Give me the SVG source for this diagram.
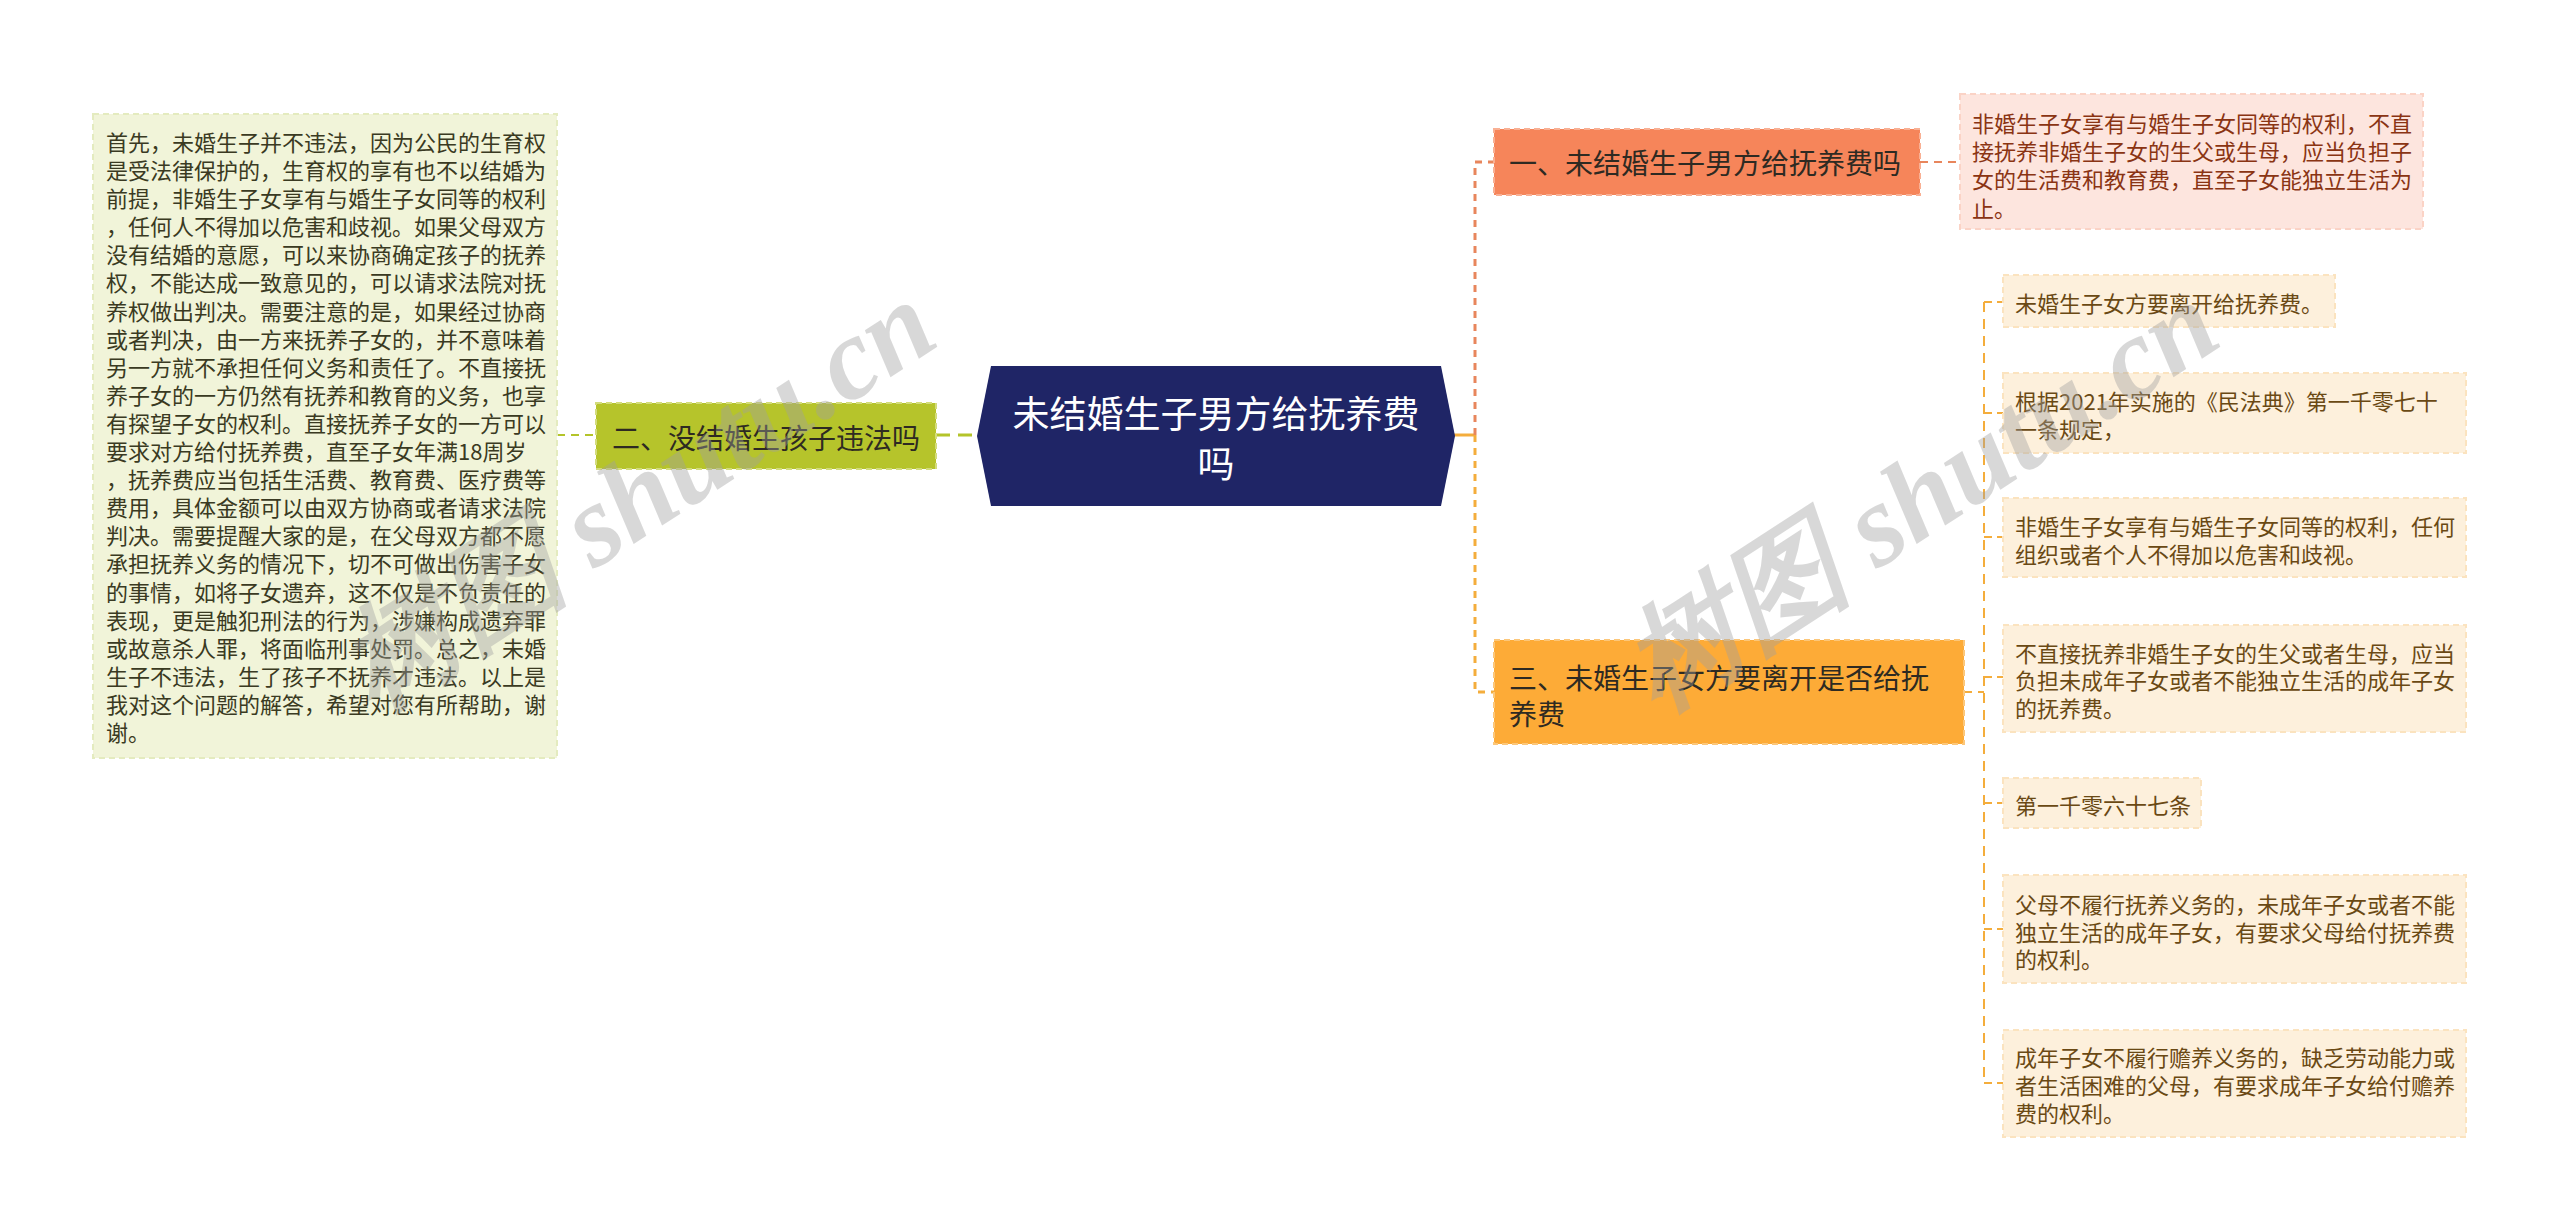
<svg xmlns="http://www.w3.org/2000/svg" width="2560" height="1231" viewBox="0 0 2560 1231">
<style>
text{font-family:"Noto Sans CJK SC","Noto Sans",sans-serif;dominant-baseline:central}
.t22{font-size:22px}
.lt{fill:#3a3a22}
.d1{fill:#8a3413}
.d3{fill:#6a4914}
.nt{font-size:28px;fill:#2e2a22}
.cbox{fill:#fdf0dc;stroke:#fbe3bf;stroke-width:2;stroke-dasharray:6 4}
.c-or{stroke:#f4ad3c;fill:none}
.c-co{stroke:#e8865c;fill:none}
.c-gr{stroke:#b4c42a;fill:none}
.wm{font-family:"Liberation Serif",serif;font-style:italic;font-weight:bold;fill:#a0a0a0;opacity:0.4;dominant-baseline:auto}
</style>
<rect width="2560" height="1231" fill="#ffffff"/>
<g id="connectors">
<path class="c-gr" stroke-width="2" stroke-dasharray="8 6" d="M557 435H596"/>
<path class="c-gr" stroke-width="3" stroke-dasharray="14 8" d="M936 435H977"/>
<path class="c-or" stroke-width="3" d="M1454 435H1475"/>
<path class="c-co" stroke-width="3" stroke-dasharray="7 6" d="M1475 435V162H1494"/>
<path class="c-or" stroke-width="3" stroke-dasharray="7 6" d="M1475 435V692H1494"/>
<path class="c-co" stroke-width="2" stroke-dasharray="8 6" d="M1920 162H1960"/>
<path class="c-or" stroke-width="2" stroke-dasharray="8 6" d="M1964 692H1984"/>
<path class="c-or" stroke-width="2" stroke-dasharray="10 7" d="M1984 302V1083"/>
<path class="c-or" stroke-width="2" stroke-dasharray="8 5" d="M1984 302H2003M1984 413H2003M1984 537H2003M1984 677H2003M1984 803H2003M1984 929H2003M1984 1083H2003"/>
</g>
<g id="left-detail">
<rect x="93" y="114" width="464" height="644" fill="#f1f4d9" stroke="#e4ebbf" stroke-width="2" stroke-dasharray="6 4"/>
<g class="t22 lt">
<text x="106" y="141">首先，未婚生子并不违法，因为公民的生育权</text>
<text x="106" y="169">是受法律保护的，生育权的享有也不以结婚为</text>
<text x="106" y="197">前提，非婚生子女享有与婚生子女同等的权利</text>
<text x="106" y="225">，任何人不得加以危害和歧视。如果父母双方</text>
<text x="106" y="253">没有结婚的意愿，可以来协商确定孩子的抚养</text>
<text x="106" y="281">权，不能达成一致意见的，可以请求法院对抚</text>
<text x="106" y="310">养权做出判决。需要注意的是，如果经过协商</text>
<text x="106" y="338">或者判决，由一方来抚养子女的，并不意味着</text>
<text x="106" y="366">另一方就不承担任何义务和责任了。不直接抚</text>
<text x="106" y="394">养子女的一方仍然有抚养和教育的义务，也享</text>
<text x="106" y="422">有探望子女的权利。直接抚养子女的一方可以</text>
<text x="106" y="450">要求对方给付抚养费，直至子女年满18周岁</text>
<text x="106" y="478">，抚养费应当包括生活费、教育费、医疗费等</text>
<text x="106" y="506">费用，具体金额可以由双方协商或者请求法院</text>
<text x="106" y="534">判决。需要提醒大家的是，在父母双方都不愿</text>
<text x="106" y="562">承担抚养义务的情况下，切不可做出伤害子女</text>
<text x="106" y="591">的事情，如将子女遗弃，这不仅是不负责任的</text>
<text x="106" y="619">表现，更是触犯刑法的行为，涉嫌构成遗弃罪</text>
<text x="106" y="647">或故意杀人罪，将面临刑事处罚。总之，未婚</text>
<text x="106" y="675">生子不违法，生了孩子不抚养才违法。以上是</text>
<text x="106" y="703">我对这个问题的解答，希望对您有所帮助，谢</text>
<text x="106" y="731">谢。</text>
</g>
</g>
<g id="node-2">
<rect x="596" y="403" width="340" height="66" fill="#b6c42b" stroke="#d3dc7c" stroke-width="2" stroke-dasharray="6 4"/>
<text class="nt" x="612" y="437">二、没结婚生孩子违法吗</text>
</g>
<g id="center">
<polygon points="977,436 991,366 1441,366 1455,436 1441,506 991,506" fill="#1f2566"/>
<text x="1216" y="412" font-size="37" fill="#ffffff" text-anchor="middle">未结婚生子男方给抚养费</text>
<text x="1216" y="462" font-size="37" fill="#ffffff" text-anchor="middle">吗</text>
</g>
<g id="node-1">
<rect x="1494" y="129" width="426" height="66" fill="#f6855a" stroke="#f9b094" stroke-width="2" stroke-dasharray="6 4"/>
<text class="nt" x="1509" y="162">一、未结婚生子男方给抚养费吗</text>
</g>
<g id="node-1-detail">
<rect x="1960" y="94" width="463" height="135" fill="#fde5de" stroke="#fbd3c6" stroke-width="2" stroke-dasharray="6 4"/>
<g class="t22 d1">
<text x="1972" y="122">非婚生子女享有与婚生子女同等的权利，不直</text>
<text x="1972" y="150">接抚养非婚生子女的生父或生母，应当负担子</text>
<text x="1972" y="178">女的生活费和教育费，直至子女能独立生活为</text>
<text x="1972" y="207">止。</text>
</g>
</g>
<g id="node-3">
<rect x="1494" y="640" width="470" height="104" fill="#fdab37" stroke="#fcc77a" stroke-width="2" stroke-dasharray="6 4"/>
<text class="nt" x="1509" y="677">三、未婚生子女方要离开是否给抚</text>
<text class="nt" x="1509" y="713">养费</text>
</g>
<g id="node-3-a">
<rect class="cbox" x="2003" y="275" width="332" height="52"/>
<text class="t22 d3" x="2015" y="302">未婚生子女方要离开给抚养费。</text>
</g>
<g id="node-3-b">
<rect class="cbox" x="2003" y="373" width="463" height="80"/>
<text class="t22 d3" x="2015" y="400">根据2021年实施的《民法典》第一千零七十</text>
<text class="t22 d3" x="2015" y="428">一条规定，</text>
</g>
<g id="node-3-c">
<rect class="cbox" x="2003" y="498" width="463" height="79"/>
<text class="t22 d3" x="2015" y="525">非婚生子女享有与婚生子女同等的权利，任何</text>
<text class="t22 d3" x="2015" y="553">组织或者个人不得加以危害和歧视。</text>
</g>
<g id="node-3-d">
<rect class="cbox" x="2003" y="625" width="463" height="107"/>
<text class="t22 d3" x="2015" y="652">不直接抚养非婚生子女的生父或者生母，应当</text>
<text class="t22 d3" x="2015" y="679">负担未成年子女或者不能独立生活的成年子女</text>
<text class="t22 d3" x="2015" y="707">的抚养费。</text>
</g>
<g id="node-3-e">
<rect class="cbox" x="2003" y="778" width="198" height="50"/>
<text class="t22 d3" x="2015" y="804">第一千零六十七条</text>
</g>
<g id="node-3-f">
<rect class="cbox" x="2003" y="875" width="463" height="108"/>
<text class="t22 d3" x="2015" y="903">父母不履行抚养义务的，未成年子女或者不能</text>
<text class="t22 d3" x="2015" y="931">独立生活的成年子女，有要求父母给付抚养费</text>
<text class="t22 d3" x="2015" y="958">的权利。</text>
</g>
<g id="node-3-g">
<rect class="cbox" x="2003" y="1030" width="463" height="107"/>
<text class="t22 d3" x="2015" y="1056">成年子女不履行赡养义务的，缺乏劳动能力或</text>
<text class="t22 d3" x="2015" y="1084">者生活困难的父母，有要求成年子女给付赡养</text>
<text class="t22 d3" x="2015" y="1112">费的权利。</text>
</g>
<g id="watermarks">
<text class="wm" font-size="116" transform="translate(375,712) rotate(-33)">树图 shutu.cn</text>
<text class="wm" font-size="116" transform="translate(1658,712) rotate(-33)">树图 shutu.cn</text>
</g>
</svg>
